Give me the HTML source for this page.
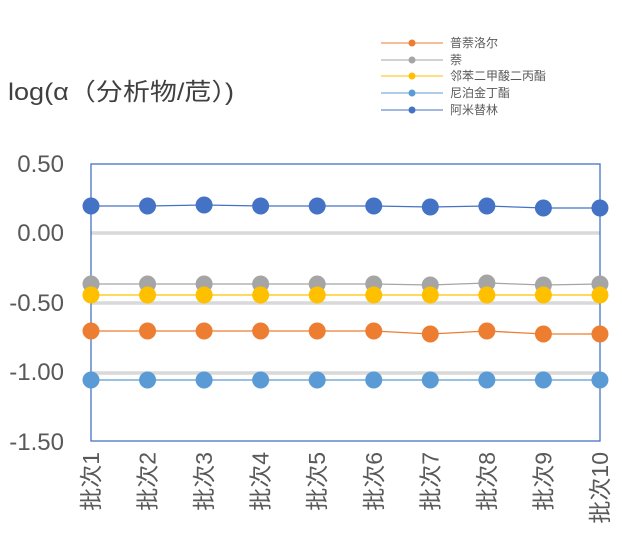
<!DOCTYPE html><html><head><meta charset="utf-8"><style>body{margin:0;background:#fff}</style></head><body>
<svg width="622" height="552" xmlns="http://www.w3.org/2000/svg" font-family="Liberation Sans, Noto Sans CJK SC, sans-serif">
<rect width="622" height="552" fill="#fff"/>
<text x="8" y="100" font-size="24" fill="#404040" textLength="226" lengthAdjust="spacingAndGlyphs">log(α（分析物/苊）)</text>
<g stroke="#d9d9d9" stroke-width="3.5"><line x1="91" x2="600" y1="233" y2="233"/><line x1="91" x2="600" y1="303" y2="303"/><line x1="91" x2="600" y1="373" y2="373"/></g>
<rect x="91" y="164" width="509" height="277" fill="none" stroke="#4472c4" stroke-width="1.3"/>
<g font-size="24" fill="#595959" text-anchor="end">
<text x="64" y="172">0.50</text><text x="64" y="241">0.00</text><text x="64" y="311">-0.50</text><text x="64" y="380">-1.00</text><text x="64" y="450">-1.50</text></g>
<g id="s"></g>
<g font-size="23" fill="#595959" text-anchor="end" id="xl"></g>
<g font-size="12" fill="#595959">
<line x1="381" x2="443" y1="43" y2="43" stroke="#ed7d31"/><circle cx="412" cy="43" r="3.5" fill="#ed7d31"/><text x="450" y="47">普萘洛尔</text>
<line x1="381" x2="443" y1="60" y2="60" stroke="#a5a5a5"/><circle cx="412" cy="60" r="3.5" fill="#a5a5a5"/><text x="450" y="64">萘</text>
<line x1="381" x2="443" y1="76" y2="76" stroke="#ffc000"/><circle cx="412" cy="76" r="3.5" fill="#ffc000"/><text x="450" y="80">邻苯二甲酸二丙酯</text>
<line x1="381" x2="443" y1="93" y2="93" stroke="#5b9bd5"/><circle cx="412" cy="93" r="3.5" fill="#5b9bd5"/><text x="450" y="97">尼泊金丁酯</text>
<line x1="381" x2="443" y1="110" y2="110" stroke="#4472c4"/><circle cx="412" cy="110" r="3.5" fill="#4472c4"/><text x="450" y="114">阿米替林</text>
</g>
</svg>
<script>
var ns="http://www.w3.org/2000/svg",g=document.getElementById("s"),xl=document.getElementById("xl");
var S=[["#ed7d31",[331,331,331,331,331,331,334,331,334,334]],["#a5a5a5",[284,284,284,284,284,284,285,283,285,284]],["#ffc000",[295,295,295,295,295,295,295,295,295,295]],["#5b9bd5",[380,380,380,380,380,380,380,380,380,380]],["#4472c4",[206,206,205,206,206,206,207,206,208,208]]];
function X(i){return 91+i*56.55}
S.forEach(function(s){var p=s[1].map(function(y,i){return X(i)+","+y}).join(" ");var l=document.createElementNS(ns,"polyline");l.setAttribute("points",p);l.setAttribute("fill","none");l.setAttribute("stroke",s[0]);l.setAttribute("stroke-width","1.3");g.appendChild(l);
s[1].forEach(function(y,i){var c=document.createElementNS(ns,"circle");c.setAttribute("cx",X(i));c.setAttribute("cy",y);c.setAttribute("r","8.5");c.setAttribute("fill",s[0]);g.appendChild(c);});});
for(var i=0;i<10;i++){var t=document.createElementNS(ns,"text");t.setAttribute("transform","translate("+(X(i)+8)+",452) rotate(-90)");t.textContent="批次"+(i+1);xl.appendChild(t);}
</script>
</body></html>
